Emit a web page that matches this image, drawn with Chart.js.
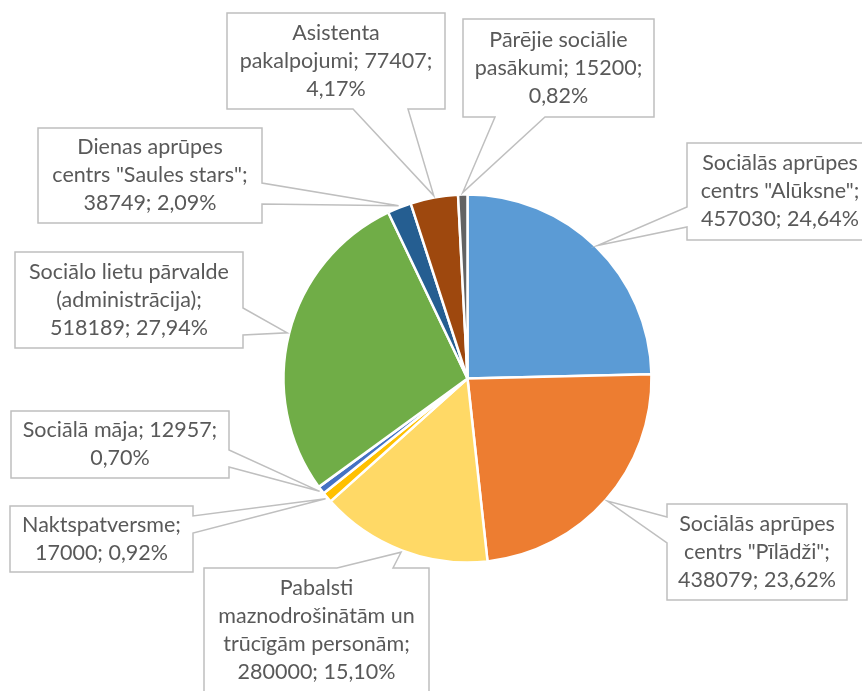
<!DOCTYPE html>
<html>
<head>
<meta charset="utf-8">
<script src="https://cdn.jsdelivr.net/npm/chart.js@4"></script>
<style>
  html, body { margin: 0; padding: 0; background: #ffffff; }
  #wrap { width: 862px; height: 691px; position: relative; }
</style>
</head>
<body>
<div id="wrap"><canvas id="c" width="862" height="691"></canvas></div>
<script>
// Budget items, clockwise from 12 o'clock
const categories = [
  'Sociālās aprūpes centrs "Alūksne"',
  'Sociālās aprūpes centrs "Pīlādži"',
  'Pabalsti maznodrošinātām un trūcīgām personām',
  'Naktspatversme',
  'Sociālā māja',
  'Sociālo lietu pārvalde (administrācija)',
  'Dienas aprūpes centrs "Saules stars"',
  'Asistenta pakalpojumi',
  'Pārējie sociālie pasākumi'
];
const amounts = [457030, 438079, 280000, 17000, 12957, 518189, 38749, 77407, 15200];
const sliceColors = ['#5B9BD5', '#ED7D31', '#FFD966', '#FFC000', '#4472C4', '#70AD47', '#255E91', '#9E480E', '#636363'];

// Callout boxes: [left, top, width, height, side the pointer leaves from, pointer base a, pointer base b, words per line]
const calloutBoxes = [
  [687, 143, 186, 97, 'left', 207, 227, [2, 2, 2]],
  [667, 504, 180, 96, 'left', 517, 543, [2, 2, 2]],
  [204, 568, 225, 125, 'top', 337, 393, [1, 2, 2, 2]],
  [10, 506, 183, 66, 'right', 516, 533, [1, 2]],
  [11, 411, 218, 67, 'right', 450, 467, [3, 1]],
  [15, 252, 228, 96, 'right', 308, 335, [3, 1, 2]],
  [38, 128, 224, 95, 'right', 183, 204, [2, 3, 2]],
  [227, 13, 218, 96, 'bottom', 353, 408, [1, 2, 1]],
  [463, 19, 191, 98, 'bottom', 495, 545, [2, 2, 1]]
];

const total = amounts.reduce((a, b) => a + b, 0);
function labelWords(i) {
  const pct = (amounts[i] / total * 100).toFixed(2).replace('.', ',') + '%';
  return (categories[i] + '; ' + amounts[i] + '; ' + pct).split(' ');
}

const calloutPlugin = {
  id: 'callouts',
  afterDatasetsDraw(chart) {
    const ctx = chart.ctx;
    const arcs = chart.getDatasetMeta(0).data;
    ctx.save();
    arcs.forEach((arc, i) => {
      const p = arc.getProps(['x', 'y', 'startAngle', 'endAngle', 'outerRadius'], true);
      const mid = (p.startAngle + p.endAngle) / 2;
      const tx = p.x + Math.cos(mid) * (p.outerRadius + 2);
      const ty = p.y + Math.sin(mid) * (p.outerRadius + 2);
      const [x, y, w, h, side, a, b, perLine] = calloutBoxes[i];
      const r = x + w, btm = y + h;
      ctx.beginPath();
      ctx.moveTo(x, y);
      if (side === 'top') { ctx.lineTo(a, y); ctx.lineTo(tx, ty); ctx.lineTo(b, y); }
      ctx.lineTo(r, y);
      if (side === 'right') { ctx.lineTo(r, a); ctx.lineTo(tx, ty); ctx.lineTo(r, b); }
      ctx.lineTo(r, btm);
      if (side === 'bottom') { ctx.lineTo(b, btm); ctx.lineTo(tx, ty); ctx.lineTo(a, btm); }
      ctx.lineTo(x, btm);
      if (side === 'left') { ctx.lineTo(x, b); ctx.lineTo(tx, ty); ctx.lineTo(x, a); }
      ctx.closePath();
      ctx.fillStyle = '#ffffff';
      ctx.fill();
      ctx.lineWidth = 1.5;
      ctx.strokeStyle = '#BFBFBF';
      ctx.stroke();

      // wrapped label text
      const words = labelWords(i);
      const lines = [];
      let k = 0;
      perLine.forEach(n => { lines.push(words.slice(k, k + n).join(' ')); k += n; });
      const lh = 28;
      ctx.font = '21.5px Lato';
      ctx.fillStyle = '#595959';
      ctx.textAlign = 'center';
      ctx.textBaseline = 'middle';
      const cx = x + w / 2;
      const startY = y + h / 2 - (lines.length - 1) * lh / 2;
      lines.forEach((ln, j) => ctx.fillText(ln, cx, startY + j * lh));
    });
    ctx.restore();
  }
};

new Chart(document.getElementById('c'), {
  type: 'pie',
  data: {
    labels: categories,
    datasets: [{
      data: amounts,
      backgroundColor: sliceColors,
      borderColor: '#ffffff',
      borderWidth: 2.5
    }]
  },
  options: {
    responsive: false,
    animation: false,
    radius: 184,
    layout: { padding: { left: 83, right: 10, top: 76, bottom: 10 } },
    plugins: {
      legend: { display: false },
      tooltip: { enabled: false }
    }
  },
  plugins: [calloutPlugin]
});
</script>
</body>
</html>
